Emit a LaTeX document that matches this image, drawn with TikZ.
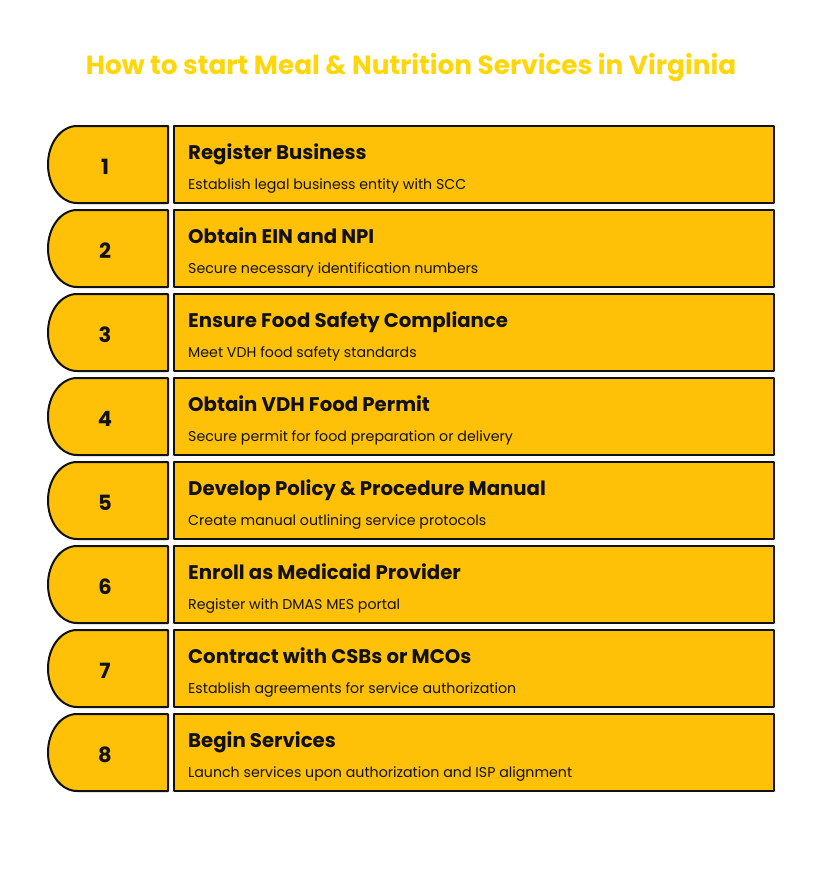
\documentclass[tikz,border=0pt]{standalone}
\usepackage{fontspec}
\setmainfont{Poppins}
\definecolor{amber}{HTML}{FFC107}
\definecolor{titlecol}{HTML}{FFD60A}
\definecolor{ink}{HTML}{111111}
\begin{document}
\begin{tikzpicture}[x=1pt,y=-1pt,
  tab/.style={draw=ink,line width=2pt,fill=amber,line join=round},
  headtxt/.style={anchor=base west,inner sep=0pt,font=\fontsize{19.7}{22}\selectfont\bfseries,text=ink},
  subtxt/.style={anchor=base west,inner sep=0pt,font=\fontsize{14.2}{16}\selectfont,text=ink},
  numtxt/.style={anchor=base,inner sep=0pt,font=\fontsize{21}{24}\selectfont\bfseries,text=ink},
  titletxt/.style={anchor=base,inner sep=0pt,font=\fontsize{26.3}{30}\selectfont\bfseries,text=titlecol}]
\useasboundingbox[fill=white] (0,0) rectangle (822,894);
\node[titletxt] (title) at (411,74) {How to start Meal \& Nutrition Services in Virginia};
\foreach \i/\h/\s in {
 1/Register Business/Establish legal business entity with SCC,
 2/Obtain EIN and NPI/Secure necessary identification numbers,
 3/Ensure Food Safety Compliance/Meet VDH food safety standards,
 4/Obtain VDH Food Permit/Secure permit for food preparation or delivery,
 5/Develop Policy \& Procedure Manual/Create manual outlining service protocols,
 6/Enroll as Medicaid Provider/Register with DMAS MES portal,
 7/Contract with CSBs or MCOs/Establish agreements for service authorization,
 8/Begin Services/Launch services upon authorization and ISP alignment}{
  \pgfmathsetmacro{\t}{126+84*(\i-1)}
  \pgfmathsetmacro{\b}{\t+77}
  \pgfmathsetmacro{\m}{\t+38.5}
  \draw[tab] (168,\t) -- (77,\t) arc[start angle=270,end angle=90,x radius=29,y radius=38.5] -- (168,\b) -- cycle;
  \draw[tab] (174,\t) rectangle (774,\b);
  \node[numtxt] (num\i) at (105,\t+48) {\i};
  \node[headtxt] (head\i) at (188,\t+33) {\h};
  \node[subtxt] (sub\i) at (188,\t+63) {\s};
}
\end{tikzpicture}
\end{document}
